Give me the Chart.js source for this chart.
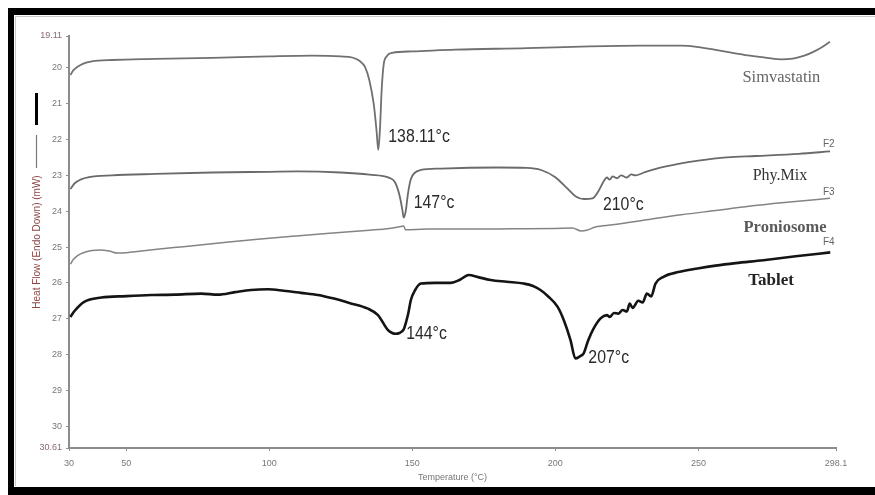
<!DOCTYPE html>
<html>
<head>
<meta charset="utf-8">
<script src="https://cdn.jsdelivr.net/npm/chart.js@4.4.1/dist/chart.umd.min.js"></script>
<style>
  html, body { margin: 0; padding: 0; background: #fff; overflow: hidden; }
  #wrap { width: 875px; height: 495px; position: relative; }
</style>
</head>
<body>
<div id="wrap"><canvas id="dsc" width="875" height="495"></canvas></div>
<script>
// DSC thermograms: temperature (°C) against heat flow (mW), endotherms pointing down

const simTemp = [30.5, 31.5, 33, 35, 38, 45, 60, 80, 100, 115, 125, 129, 131.5, 133.5, 135, 136.5, 137.5, 138.11, 138.7, 139.3, 140, 141, 143, 150, 165, 190, 212, 230, 244, 250, 256, 262, 268, 274, 279, 283, 287, 290, 293, 296];
const simHeat = [20.20, 20.07, 19.97, 19.88, 19.82, 19.78, 19.75, 19.72, 19.68, 19.66, 19.68, 19.71, 19.80, 19.98, 20.35, 21.00, 21.75, 22.29, 21.70, 20.60, 19.90, 19.68, 19.58, 19.54, 19.49, 19.45, 19.40, 19.38, 19.38, 19.42, 19.50, 19.58, 19.66, 19.72, 19.76, 19.74, 19.66, 19.56, 19.43, 19.27];

const mixTemp = [30.5, 32, 34, 37, 45, 60, 80, 100, 110, 125, 135, 142, 144, 145.5, 146.5, 147, 147.7, 148.5, 149.5, 151, 153, 160, 180, 190, 195, 200, 204, 207, 210, 213, 215, 217, 218, 219, 220, 221.5, 223, 225, 226.5, 228, 231, 236, 243, 250, 260, 270, 285, 296];
const mixHeat = [23.38, 23.22, 23.12, 23.05, 23.00, 22.96, 22.92, 22.90, 22.89, 22.92, 22.98, 23.07, 23.20, 23.55, 23.95, 24.18, 24.00, 23.50, 23.10, 22.92, 22.85, 22.81, 22.78, 22.79, 22.85, 23.05, 23.35, 23.58, 23.66, 23.64, 23.45, 23.15, 23.06, 23.12, 23.03, 23.08, 23.00, 23.06, 22.97, 23.00, 22.92, 22.80, 22.68, 22.59, 22.50, 22.46, 22.40, 22.33];

const proTemp = [30.5, 31.5, 33, 35, 38, 41, 44, 47, 50, 53, 60, 70, 80, 95, 108, 120, 135, 142, 146, 147, 147.6, 155, 170, 185, 200, 206, 209, 211, 214, 220, 232, 244, 256, 267, 280, 296];
const proHeat = [25.48, 25.35, 25.24, 25.16, 25.10, 25.08, 25.11, 25.17, 25.16, 25.13, 25.07, 24.99, 24.91, 24.79, 24.70, 24.62, 24.53, 24.48, 24.43, 24.41, 24.52, 24.50, 24.50, 24.49, 24.48, 24.47, 24.55, 24.53, 24.44, 24.38, 24.24, 24.10, 23.98, 23.87, 23.76, 23.64];

const tabTemp = [30.5, 32, 35.3, 41.3, 50, 58.7, 67, 76.2, 82.1, 88, 93.6, 99.6, 105, 111.1, 117, 122.6, 128, 134.5, 138, 141.5, 143, 144, 145.5, 147, 147.7, 148.6, 149.5, 151, 153, 158, 163.5, 166.5, 169.7, 173, 177.4, 183, 188.9, 192, 194.8, 197.5, 200.8, 203, 205.3, 207, 208.6, 209.9, 211.5, 213.4, 215.8, 218, 219, 220.5, 222, 223.5, 225, 226, 227, 229, 230.5, 232, 233.5, 235, 237.8, 243, 249.7, 256, 263, 272.7, 284, 296.1];
const tabHeat = [26.95, 26.78, 26.53, 26.41, 26.37, 26.34, 26.33, 26.30, 26.33, 26.26, 26.20, 26.18, 26.22, 26.28, 26.34, 26.44, 26.56, 26.72, 26.90, 27.32, 27.40, 27.42, 27.40, 27.30, 27.13, 26.85, 26.48, 26.20, 26.02, 26.00, 26.00, 25.92, 25.78, 25.84, 25.92, 25.97, 26.02, 26.08, 26.20, 26.38, 26.67, 27.05, 27.60, 28.11, 28.05, 27.97, 27.60, 27.27, 26.99, 26.90, 26.95, 26.84, 26.86, 26.76, 26.80, 26.58, 26.70, 26.50, 26.55, 26.30, 26.38, 26.02, 25.83, 25.70, 25.60, 25.52, 25.45, 25.37, 25.26, 25.15];

const xTickValues = [30, 50, 100, 150, 200, 250, 298.1];
const yTickValues = [19.11, 20, 21, 22, 23, 24, 25, 26, 27, 28, 29, 30, 30.61];

const seriesNames = ['Simvastatin', 'Phy.Mix', 'Proniosome', 'Tablet'];
const seriesTags = ['', 'F2', 'F3', 'F4'];
const peakTemps = [[138.11], [147, 210], [], [144, 207]];

const pairs = (t, h) => t.map((x, i) => ({ x: x, y: h[i] }));
const allTemps = [simTemp, mixTemp, proTemp, tabTemp];
const allHeats = [simHeat, mixHeat, proHeat, tabHeat];

// look & placement of each trace and its text
const traceStyle = [
  { color: '#707070', width: 1.8 },
  { color: '#6a6a6a', width: 1.8 },
  { color: '#848484', width: 1.5 },
  { color: '#141414', width: 2.6 }
];
const nameStyle = [
  { t: 279.0, v: 20.27, font: '16.5px "Liberation Serif", serif', color: '#666' },
  { t: 278.5, v: 23.01, font: '16px "Liberation Serif", serif', color: '#333' },
  { t: 280.3, v: 24.47, font: 'bold 16.5px "Liberation Serif", serif', color: '#5a5a5a' },
  { t: 275.4, v: 25.93, font: 'bold 17px "Liberation Serif", serif', color: '#222' }
];
const tagStyle = [null, { t: 295.6, v: 22.14 }, { t: 295.6, v: 23.47 }, { t: 295.6, v: 24.86 }];
const peakOffsets = [[[10, -13]], [[10, -15], [19, 6]], [], [[11, 0], [13, 0]]];

const framePlugin = {
  id: 'frame',
  beforeDraw(chart) {
    const c = chart.ctx;
    c.save();
    c.fillStyle = '#ffffff';
    c.fillRect(0, 0, chart.width, chart.height);
    c.fillStyle = '#000000';
    c.fillRect(8, 8, chart.width - 8, 7);
    c.fillRect(8, 8, 6, chart.height - 8);
    c.fillRect(8, 487, chart.width - 8, 8);
    c.strokeStyle = '#c8c8c8';
    c.lineWidth = 1;
    c.beginPath();
    c.moveTo(15.5, chart.height - 9);
    c.lineTo(15.5, 16.5);
    c.lineTo(chart.width, 16.5);
    c.stroke();

    // vertical axis caption with its two line keys
    c.translate(37, 242);
    c.rotate(-Math.PI / 2);
    c.font = '10px "Liberation Sans", Arial, sans-serif';
    c.fillStyle = '#8c4646';
    c.textAlign = 'center';
    c.textBaseline = 'middle';
    c.fillText('Heat Flow (Endo Down) (mW)', 0, 0);
    c.restore();

    c.save();
    c.strokeStyle = '#777';
    c.lineWidth = 1.2;
    c.beginPath();
    c.moveTo(36.5, 135);
    c.lineTo(36.5, 168);
    c.stroke();
    c.strokeStyle = '#000';
    c.lineWidth = 3;
    c.beginPath();
    c.moveTo(36.5, 93);
    c.lineTo(36.5, 125);
    c.stroke();
    c.restore();
  }
};

const textPlugin = {
  id: 'traceText',
  afterDatasetsDraw(chart) {
    const c = chart.ctx;
    const xs = chart.scales.x, ys = chart.scales.y;
    c.save();
    c.textBaseline = 'middle';
    // peak temperatures, anchored on the trace point at that temperature
    peakTemps.forEach((list, si) => {
      list.forEach((t, k) => {
        const idx = allTemps[si].indexOf(t);
        const px = xs.getPixelForValue(t);
        const py = ys.getPixelForValue(allHeats[si][idx]);
        const off = peakOffsets[si][k];
        c.save();
        c.translate(px + off[0], py + off[1]);
        c.scale(0.88, 1);
        c.font = '18px "Liberation Sans", Arial, sans-serif';
        c.fillStyle = '#2a2a2a';
        c.textAlign = 'left';
        c.fillText(t + '°c', 0, 0);
        c.restore();
      });
    });
    // sample names
    seriesNames.forEach((name, si) => {
      const s = nameStyle[si];
      c.font = s.font;
      c.fillStyle = s.color;
      c.textAlign = 'center';
      c.fillText(name, xs.getPixelForValue(s.t), ys.getPixelForValue(s.v));
    });
    // curve tags at the right end
    seriesTags.forEach((tag, si) => {
      const s = tagStyle[si];
      if (!s) return;
      c.font = '10px "Liberation Sans", Arial, sans-serif';
      c.fillStyle = '#666';
      c.textAlign = 'center';
      c.fillText(tag, xs.getPixelForValue(s.t), ys.getPixelForValue(s.v));
    });
    c.restore();
  }
};

const datasets = seriesNames.map((name, i) => ({
  label: name,
  data: pairs(allTemps[i], allHeats[i]),
  borderColor: traceStyle[i].color,
  borderWidth: traceStyle[i].width,
  pointRadius: 0,
  fill: false,
  tension: 0,
  cubicInterpolationMode: 'monotone'
}));

new Chart(document.getElementById('dsc').getContext('2d'), {
  type: 'line',
  data: { datasets: datasets },
  options: {
    responsive: false,
    animation: false,
    layout: { padding: { left: 0, right: 39, top: 36, bottom: 0 } },
    plugins: { legend: { display: false }, tooltip: { enabled: false } },
    scales: {
      x: {
        type: 'linear',
        min: 30,
        max: 298.1,
        afterBuildTicks: s => { s.ticks = xTickValues.map(v => ({ value: v })); },
        afterFit: s => { s.height = 47; },
        grid: { display: true, drawOnChartArea: false, drawTicks: true, tickLength: 3, color: '#8c8c8c' },
        border: { display: true, color: '#8c8c8c', width: 2 },
        ticks: {
          color: '#777', padding: 7, maxRotation: 0, autoSkip: false,
          font: { family: '"Liberation Sans", Arial, sans-serif', size: 9 },
          callback: v => String(v)
        },
        title: {
          display: true, text: 'Temperature (°C)', color: '#777',
          font: { family: '"Liberation Sans", Arial, sans-serif', size: 9 },
          padding: { top: 0, bottom: 12 }
        }
      },
      y: {
        type: 'linear',
        reverse: true,
        min: 19.11,
        max: 30.61,
        afterBuildTicks: s => { s.ticks = yTickValues.map(v => ({ value: v })); },
        afterFit: s => { s.width = 69; },
        grid: { display: true, drawOnChartArea: false, drawTicks: true, tickLength: 3, color: '#8c8c8c' },
        border: { display: true, color: '#8c8c8c', width: 2 },
        ticks: {
          padding: 4, autoSkip: false,
          color: ctx => (ctx.index === 0 || ctx.index === yTickValues.length - 1) ? '#8a6878' : '#777',
          font: { family: '"Liberation Sans", Arial, sans-serif', size: 9 },
          callback: v => String(v)
        }
      }
    }
  },
  plugins: [framePlugin, textPlugin]
});
</script>
</body>
</html>
